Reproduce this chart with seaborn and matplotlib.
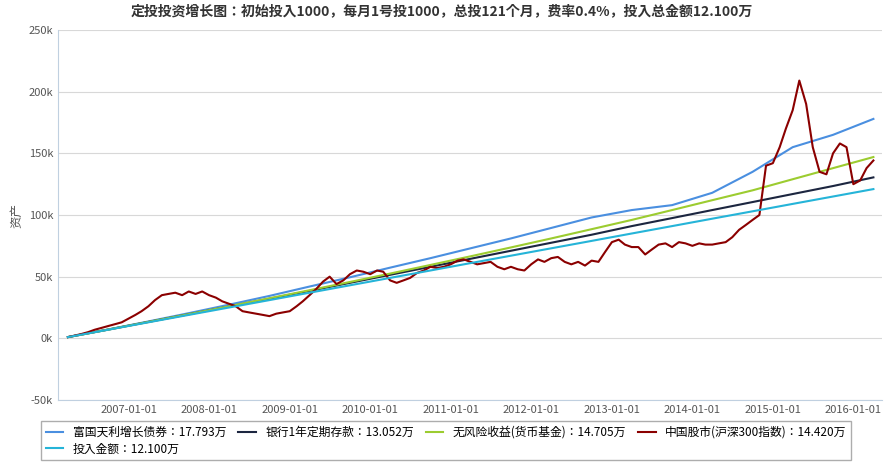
import matplotlib
matplotlib.use("Agg")
import matplotlib.pyplot as plt
import matplotlib.dates as mdates
import matplotlib.ticker as mt
from matplotlib import font_manager
import seaborn as sns
import pandas as pd
import numpy as np

names = {f.name for f in font_manager.fontManager.ttflist}
cands = [n for n in ["Noto Sans CJK SC", "Noto Sans CJK JP", "Noto Sans CJK TC", "Noto Sans CJK KR"] if n in names]
plt.rcParams["font.family"] = "sans-serif"
plt.rcParams["font.sans-serif"] = cands + ["DejaVu Sans"]

months = pd.date_range("2006-04-01", periods=121, freq="MS")
stock = [1, 2.2, 3.5, 5, 7, 8.5, 10, 11.5, 13,
         16, 19, 22, 26, 31, 35, 36, 37, 35, 38, 36, 38,
         35, 33, 30, 28, 26, 22, 21, 20, 19, 18, 20, 21,
         22, 26, 30, 35, 40, 46, 50, 44, 47, 52, 55, 54,
         52, 55, 54, 47, 45, 47, 49, 53, 55, 58, 57, 58,
         60, 63, 64, 62, 60, 61, 62, 58, 56, 58, 56, 55,
         60, 64, 62, 65, 66, 62, 60, 62, 59, 63, 62, 70,
         78, 80, 76, 74, 74, 68, 72, 76, 77, 74, 78, 77,
         75, 77, 76, 76, 77, 78, 82, 88, 92, 96, 100, 140,
         142, 155, 170, 185, 209, 190, 155, 135, 133, 150, 158, 155,
         125, 128, 138, 144.2]
semi_idx = list(range(0, 121, 6))
invested = [1, 7, 13, 19, 25, 31, 37, 43, 49, 55, 61, 67, 73, 79, 85, 91, 97, 103, 109, 115, 121]
bond = [1, 7.2, 13.7, 20.4, 27.3, 34.4, 42, 49.5, 57.3, 65, 73, 81, 89.5, 98, 104, 108, 118, 135, 155, 165, 177.9]
riskfree = [1, 7.1, 13.3, 19.6, 26, 32.5, 39, 45.7, 52.5, 59.5, 66.5, 73.7, 81, 88.5, 96, 104, 112, 120, 129, 138, 147]
bank = [1, 7.1, 13.3, 19.5, 25.8, 32.1, 38.5, 45, 51.5, 58, 64.5, 71, 77.5, 84, 91, 97.5, 104, 110.5, 117, 123.5, 130.5]

semi_dates = months[semi_idx]
fig = plt.figure(figsize=(8.84, 4.66), dpi=100)
ax = fig.add_axes([58/884, 66/466, 824/884, 370/466])

series = [
    ("富国天利增长债券：17.793万", semi_dates, bond, "#4a8fe0"),
    ("银行1年定期存款：13.052万", semi_dates, bank, "#1c2640"),
    ("无风险收益(货币基金)：14.705万", semi_dates, riskfree, "#9ccc30"),
    ("中国股市(沪深300指数)：14.420万", months, stock, "#8b0000"),
    ("投入金额：12.100万", semi_dates, invested, "#25b4d8"),
]
for lab, x, y, c in series:
    sns.lineplot(x=x, y=np.array(y) * 1000, ax=ax, color=c, lw=1.5, label=lab, legend=False)

ax.set_ylim(-50000, 250000)
ax.set_xlim(pd.Timestamp("2006-02-15"), pd.Timestamp("2016-05-10"))
ax.yaxis.set_major_locator(mt.MultipleLocator(50000))
ax.yaxis.set_major_formatter(mt.FuncFormatter(lambda v, p: f"{int(v/1000)}k"))
ax.xaxis.set_major_locator(mdates.YearLocator())
ax.xaxis.set_major_formatter(mdates.DateFormatter("%Y-%m-%d"))
ax.grid(axis="y", color="#d8d8d8", lw=0.8)
for s in ["top", "right"]:
    ax.spines[s].set_visible(False)
ax.spines["left"].set_color("#c0d0e0")
ax.spines["bottom"].set_color("#c0d0e0")
ax.tick_params(labelsize=8, colors="#555555", length=0)
ax.set_ylabel("资产", fontsize=9, color="#555555")
ax.set_xlabel("")
fig.suptitle("定投投资增长图：初始投入1000，每月1号投1000，总投121个月，费率0.4%，投入总金额12.100万",
             y=0.99, fontsize=10, fontweight="bold", color="#333333")
h, l = ax.get_legend_handles_labels()
order = [0, 4, 1, 2, 3]
fig.legend([h[i] for i in order], [l[i] for i in order], loc="lower left",
           bbox_to_anchor=(35/884, 0.0), ncol=4, fontsize=8.5,
           frameon=True, edgecolor="#999999", fancybox=False, handlelength=1.5,
           columnspacing=1.0, borderpad=0.4, labelspacing=0.3)
fig.savefig("out.png", dpi=100)
